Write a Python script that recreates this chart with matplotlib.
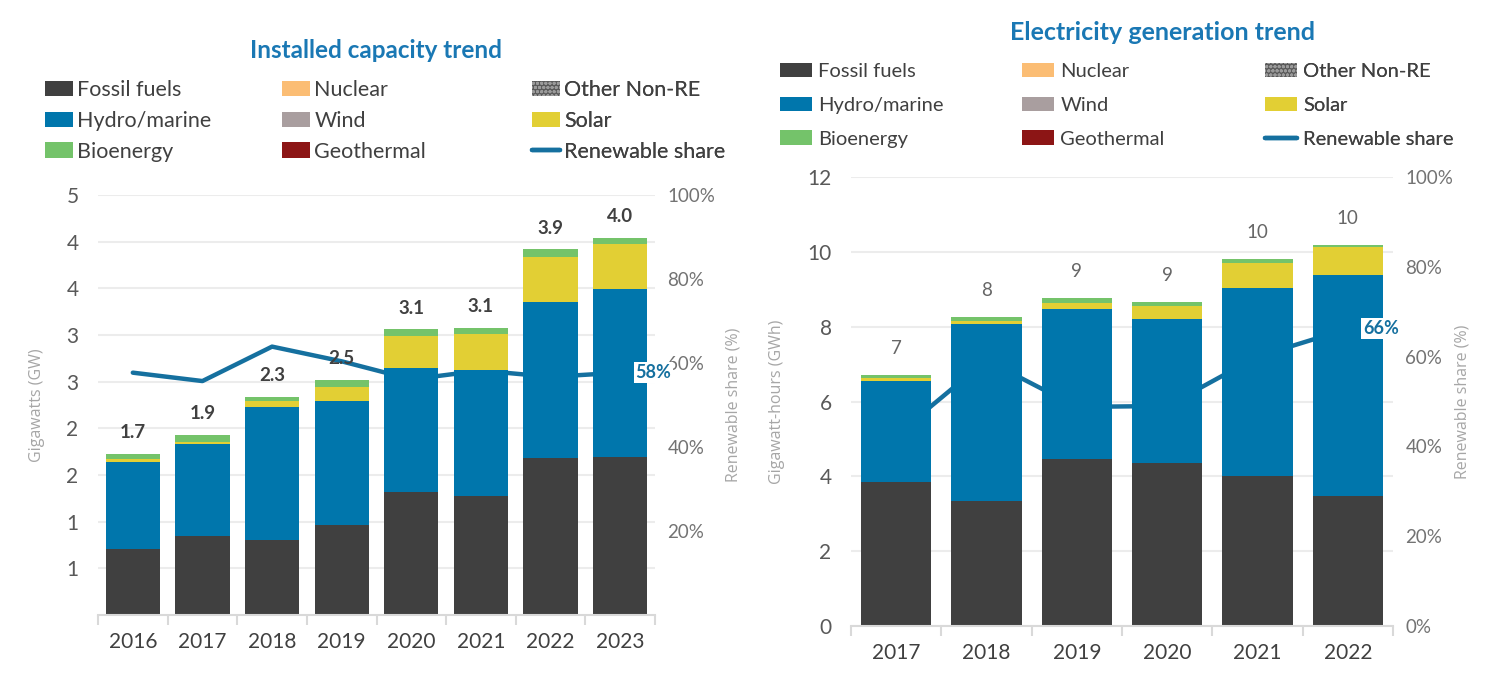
import matplotlib.pyplot as plt
import numpy as np
from matplotlib.lines import Line2D

plt.rcParams['font.family'] = ['Lato', 'DejaVu Sans']
plt.rcParams['hatch.color'] = '#9a9a9a'

# Installed capacity (GW)
cap_years = ['2016', '2017', '2018', '2019', '2020', '2021', '2022', '2023']
cap_fossil = [0.71, 0.85, 0.80, 0.96, 1.32, 1.28, 1.68, 1.69]
cap_nuclear = [0, 0, 0, 0, 0, 0, 0, 0]
cap_other = [0, 0, 0, 0, 0, 0, 0, 0]
cap_hydro = [0.93, 0.98, 1.43, 1.33, 1.33, 1.34, 1.67, 1.80]
cap_wind = [0, 0, 0, 0, 0, 0, 0, 0]
cap_solar = [0.03, 0.02, 0.06, 0.15, 0.34, 0.39, 0.49, 0.49]
cap_bio = [0.06, 0.08, 0.05, 0.08, 0.07, 0.07, 0.08, 0.06]
cap_geo = [0, 0, 0, 0, 0, 0, 0, 0]
cap_share = [57.7, 55.7, 63.9, 60.4, 56.1, 58.2, 56.7, 57.7]
cap_ticks = [0.5, 1.0, 1.5, 2.0, 2.5, 3.0, 3.5, 4.0, 4.5]
cap_ticklabels = ['1', '1', '2', '2', '3', '3', '4', '4', '5']

# Electricity generation (GWh)
gen_years = ['2017', '2018', '2019', '2020', '2021', '2022']
gen_fossil = [3.86, 3.35, 4.45, 4.36, 4.00, 3.48]
gen_nuclear = [0, 0, 0, 0, 0, 0]
gen_other = [0, 0, 0, 0, 0, 0]
gen_hydro = [2.70, 4.73, 4.03, 3.84, 5.04, 5.89]
gen_wind = [0, 0, 0, 0, 0, 0]
gen_solar = [0.06, 0.07, 0.14, 0.36, 0.66, 0.77]
gen_bio = [0.09, 0.10, 0.15, 0.10, 0.10, 0.04]
gen_geo = [0, 0, 0, 0, 0, 0]
gen_share = [42.5, 59.2, 48.8, 49.0, 60.0, 66.2]
gen_ticks = [0, 2, 4, 6, 8, 10, 12]
gen_ticklabels = ['0', '2', '4', '6', '8', '10', '12']

names = ['Fossil fuels', 'Nuclear', 'Other Non-RE', 'Hydro/marine', 'Wind',
         'Solar', 'Bioenergy', 'Geothermal']
colors = ['#404040', '#fbbd74', '#5a5a5a', '#0076ac', '#a99e9f',
          '#e2cf34', '#74c36a', '#8c1515']
line_color = '#15709f'
title_color = '#1a78b4'

W, H = 1507, 682
fig = plt.figure(figsize=(W / 100, H / 100), dpi=100)


def panel(rect, years, series, share, yticks, yticklabels, ymax, pct_ticks,
          total_fmt, label_bold, label_off, ylabel, ylabel_x, y2label_x):
    ax = fig.add_axes(rect)
    ax2 = ax.twinx()
    ax.set_zorder(ax2.get_zorder() + 1)
    ax.patch.set_visible(False)

    x = np.arange(len(years))
    bottom = np.zeros(len(years))
    handles = []
    for vals, name, col in zip(series, names, colors):
        hatch = 'oooo' if name == 'Other Non-RE' else None
        b = ax.bar(x, vals, 0.78, bottom=bottom, color=col, label=name,
                   hatch=hatch, linewidth=0)
        handles.append(b)
        bottom = bottom + np.array(vals)

    for xi, tot in zip(x, bottom):
        ax.annotate(total_fmt.format(tot), (xi, tot), xytext=(0, label_off),
                    textcoords='offset points', ha='center', va='bottom',
                    fontsize=13.5, color='#404040' if label_bold else '#666666',
                    fontweight='bold' if label_bold else 'normal')

    # share line sits behind the bars
    ax2.plot(x, share, color=line_color, linewidth=3.2,
             solid_joinstyle='round', solid_capstyle='round', zorder=3)
    ax2.hlines(yticks, 0, 1, transform=ax.get_yaxis_transform(),
               color='#ececec', linewidth=1.5, zorder=1)
    ax.annotate('{:.0f}%'.format(share[-1]), (x[-1], share[-1]),
                xycoords=ax2.transData, xytext=(11, 0),
                textcoords='offset points', ha='left', va='center',
                fontsize=13, fontweight='bold', color=line_color,
                bbox=dict(boxstyle='square,pad=0.1', fc='white', ec='none'))

    ax.set_xlim(-0.5, len(years) - 0.5)
    ax.set_ylim(0, ymax)
    ax2.set_ylim(0, 100)
    ax.set_yticks(yticks)
    ax.set_yticklabels(yticklabels)
    ax.set_xticks(x)
    ax.set_xticklabels(years)
    ax.set_xticks(np.arange(-0.5, len(years), 1), minor=True)
    ax2.set_yticks(pct_ticks)
    ax2.set_yticklabels(['{}%'.format(p) for p in pct_ticks])

    ax.tick_params(axis='y', length=0, labelsize=15, labelcolor='#595959', pad=14)
    ax.tick_params(axis='x', which='major', length=0, labelsize=15,
                   labelcolor='#404040', pad=12)
    ax.tick_params(axis='x', which='minor', length=7, width=1.5, color='#d9d9d9')
    ax2.tick_params(axis='y', length=0, labelsize=13.5, labelcolor='#737373', pad=9)

    for s in ['top', 'left', 'right']:
        ax.spines[s].set_visible(False)
    for s in ax2.spines.values():
        s.set_visible(False)
    ax.spines['bottom'].set_color('#d9d9d9')
    ax.spines['bottom'].set_linewidth(1.5)

    ax.set_ylabel(ylabel, fontsize=11.5, color='#a6a6a6', family='Open Sans')
    ax.yaxis.set_label_coords(ylabel_x, 0.5)
    ax2.set_ylabel('Renewable share (%)', fontsize=11.5, color='#a6a6a6',
                   family='Open Sans')
    ax2.yaxis.set_label_coords(y2label_x, 0.5)

    share_handle = Line2D([], [], color=line_color, linewidth=3.2,
                          solid_capstyle='round')
    return ax, handles, share_handle


def legend_cols(ax, handles, share_handle, xs, y_top, fs, hl, pad, spacing):
    cols = [[(handles[0], names[0]), (handles[3], names[3]), (handles[6], names[6])],
            [(handles[1], names[1]), (handles[4], names[4]), (handles[7], names[7])],
            [(handles[2], names[2]), (handles[5], names[5]),
             (share_handle, 'Renewable share')]]
    for cx, col in zip(xs, cols):
        leg = ax.legend([c[0] for c in col], [c[1] for c in col],
                        loc='upper left', bbox_to_anchor=(cx / W, 1 - y_top / H),
                        bbox_transform=fig.transFigure, frameon=False,
                        fontsize=fs, handlelength=hl, handleheight=0.72,
                        handletextpad=pad, labelspacing=spacing,
                        borderpad=0, borderaxespad=0, labelcolor='#404040')
        ax.add_artist(leg)


cap_series = [cap_fossil, cap_nuclear, cap_other, cap_hydro, cap_wind,
              cap_solar, cap_bio, cap_geo]
ax_c, h_c, s_c = panel([98 / W, 1 - 615 / H, 557 / W, 420 / H], cap_years,
                       cap_series, cap_share, cap_ticks, cap_ticklabels, 4.5,
                       [20, 40, 60, 80, 100], '{:.1f}', True, 9,
                       'Gigawatts (GW)', -0.095, 1.126)
legend_cols(ax_c, h_c, s_c, [45, 282, 532], 80, 15.5, 1.3, 0.2, 0.5)
fig.text(376 / W, 1 - 50 / H, 'Installed capacity trend', ha='center',
         va='center', fontsize=17.5, fontweight='bold', color=title_color)

gen_series = [gen_fossil, gen_nuclear, gen_other, gen_hydro, gen_wind,
              gen_solar, gen_bio, gen_geo]
ax_g, h_g, s_g = panel([851 / W, 1 - 626 / H, 542 / W, 449 / H], gen_years,
                       gen_series, gen_share, gen_ticks, gen_ticklabels, 12,
                       [0, 20, 40, 60, 80, 100], '{:.0f}', False, 13,
                       'Gigawatt-hours (GWh)', -0.122, 1.114)
legend_cols(ax_g, h_g, s_g, [780, 1022, 1265], 63, 14.5, 1.6, 0.3, 0.82)
fig.text(1163 / W, 1 - 33 / H, 'Electricity generation trend', ha='center',
         va='center', fontsize=18, fontweight='bold', color=title_color)

fig.savefig('out.png', dpi=100)
